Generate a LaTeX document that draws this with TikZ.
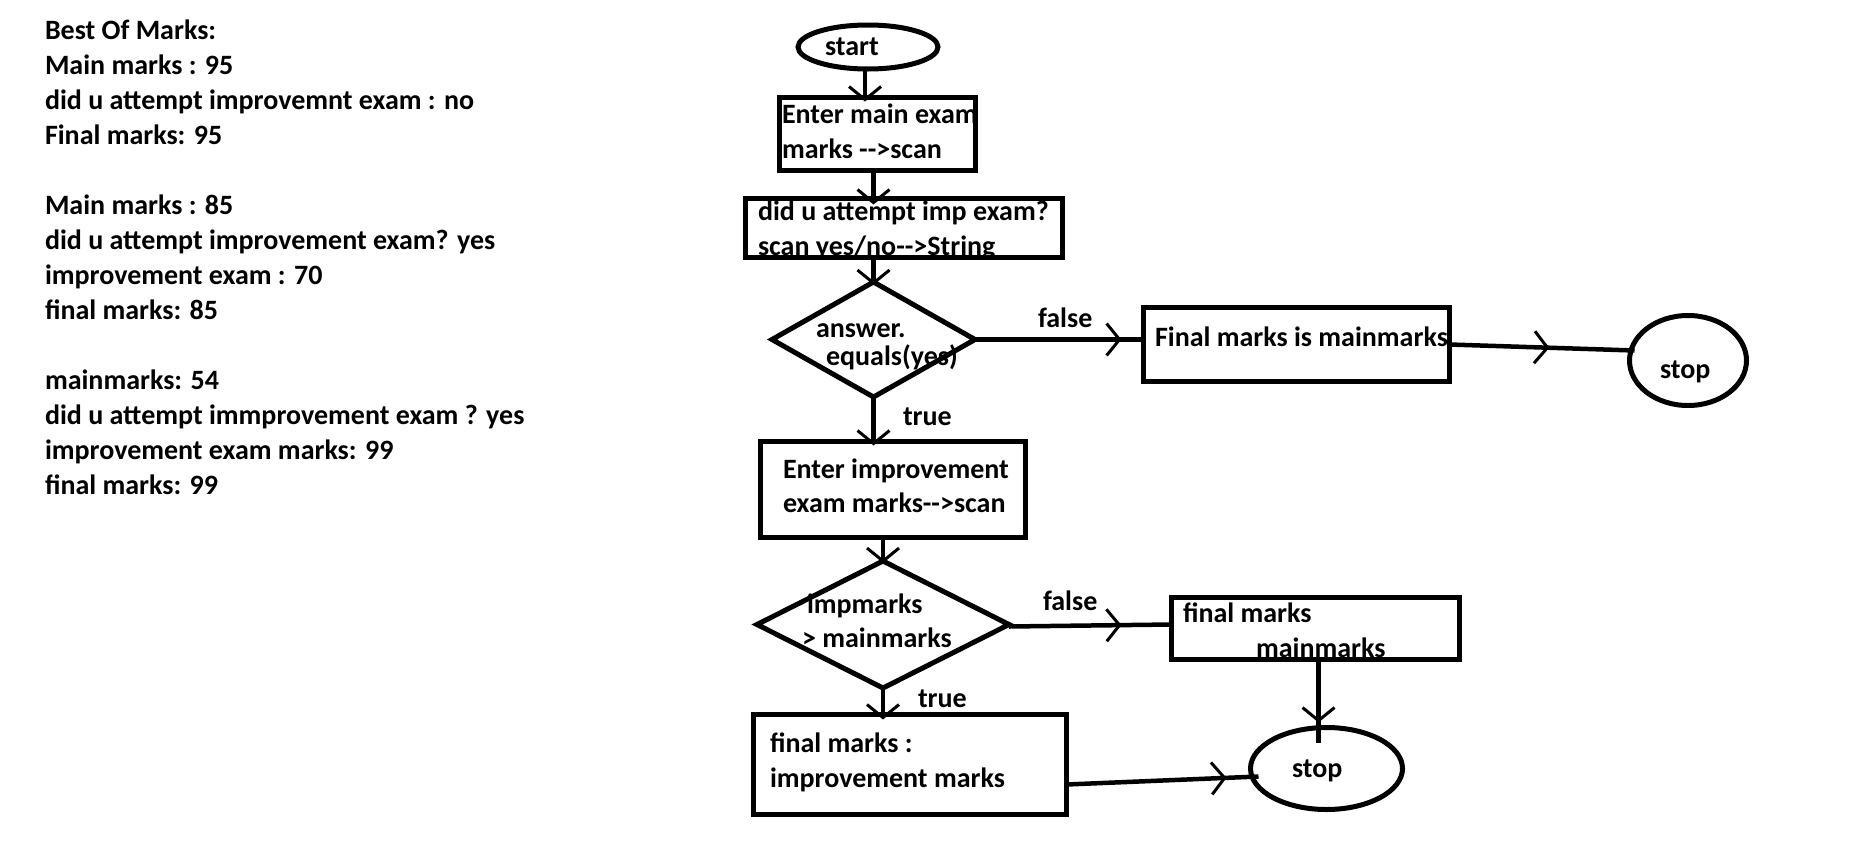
\documentclass[tikz,border=0pt]{standalone}
\usepackage{fontspec}
\setmainfont{Carlito}
\usetikzlibrary{shapes.geometric,arrows.meta,decorations.markings,calc}
\begin{document}
\begin{tikzpicture}[x=1pt,y=-1pt,
  every node/.style={font=\fontsize{28}{32}\selectfont\bfseries},
  txt/.style={anchor=base west,inner sep=0pt,outer sep=0pt},
  shp/.style={draw,line width=5pt,inner sep=0pt,outer sep=0pt},
  boxs/.style={shp,rectangle},
  ell/.style={shp,ellipse},
  dia/.style={shp,diamond},
  conn/.style={line width=4.5pt},
  arrowline/.style={conn,-{Straight Barb[length=13pt,width=32pt,line width=3pt]}},
  marrow/.style={conn,postaction={decorate,decoration={markings,mark=at position #1 with {\arrow{Straight Barb[length=13pt,width=32pt,line width=3pt]}}}}}
]
\useasboundingbox (0,0) rectangle (1865,846);

% left description
\foreach \yy/\ltext [count=\i] in {39/Best Of Marks:,74/Main marks : 95,109/did u attempt improvemnt exam : no,144/Final marks: 95,214/Main marks : 85,249/did u attempt improvement exam? yes,284/improvement exam : 70,319/final marks: 85,389/mainmarks: 54,424/did u attempt immprovement exam ? yes,459/improvement exam marks: 99,494/final marks: 99}
  \node[txt] (left\i) at (45,\yy) {\ltext};

% texts
\node[txt] (tstart) at (825,55) {start};
\node[txt] (tb1a) at (782,123) {Enter main exam};
\node[txt] (tb1b) at (782,158) {marks -{}-{}>scan};
\node[txt] (tb2a) at (758,220) {did u attempt imp exam?};
\node[txt] (tb2b) at (758,255) {scan yes/no-{}-{}>String};
\node[txt] (td1a) at (816,337) {answer.};
\node[txt] (td1b) at (826,365) {equals(yes)};
\node[txt] (tf1) at (1038,327) {false};
\node[txt] (tb3) at (1155,346) {Final marks is mainmarks};
\node[txt] (ts1) at (1660,378) {stop};
\node[txt] (tt1) at (903,425) {true};
\node[txt] (tb4a) at (783,478) {Enter improvement};
\node[txt] (tb4b) at (783,512) {exam marks-{}-{}>scan};
\node[txt] (td2a) at (807,613) {impmarks};
\node[txt] (td2b) at (802,647) {> mainmarks};
\node[txt] (tf2) at (1043,610) {false};
\node[txt] (tb5a) at (1183,622) {final marks};
\node[txt] (tb5b) at (1256,657) {mainmarks};
\node[txt] (tt2) at (918,707) {true};
\node[txt] (tb6a) at (770,752) {final marks :};
\node[txt] (tb6b) at (770,787) {improvement marks};
\node[txt] (ts2) at (1292,777) {stop};

% shapes
\node[ell,minimum width=140pt,minimum height=44pt] (start) at (868,47) {};
\node[boxs,minimum width=196pt,minimum height=73pt] (b1) at (877.5,134) {};
\node[boxs,minimum width=317pt,minimum height=59pt] (b2) at (904,228) {};
\node[dia,minimum width=203pt,minimum height=115pt] (d1) at (873.5,339.5) {};
\node[boxs,minimum width=306pt,minimum height=74pt] (b3) at (1296.5,344.5) {};
\node[ell,minimum width=117pt,minimum height=90pt] (stop1) at (1688,360.5) {};
\node[boxs,minimum width=265pt,minimum height=96pt] (b4) at (893,489.5) {};
\node[dia,minimum width=252pt,minimum height=127pt] (d2) at (883,624.5) {};
\node[boxs,minimum width=288pt,minimum height=62pt] (b5) at (1315.5,628.5) {};
\node[boxs,minimum width=313pt,minimum height=100pt] (b6) at (910,764.5) {};
\node[ell,minimum width=152pt,minimum height=82pt] (stop2) at (1326.5,768.5) {};

% connectors
\draw[arrowline] ($(start.south)+(-3,0)$) -- ($(start.south |- b1.north)+(-3,4)$);
\draw[arrowline] ($(b1.south)+(-4,0)$) -- ($(b1.south |- b2.north)+(-4,6)$);
\draw[arrowline] (d1.north |- b2.south) -- ($(d1.north)+(0,3)$);
\draw[marrow=-22pt] (d1.east) -- (d1.east -| b3.west);
\draw[marrow=0.54] (b3.east) -- ($(stop1.west)+(5,-10)$);
\draw[arrowline] (d1.south) -- ($(d1.south |- b4.north)+(0,4)$);
\draw[arrowline] (b4.south -| d2.north) -- ($(d2.north)+(0,2)$);
\draw[marrow=-50pt] ($(d2.east)+(0,2)$) -- ($(d2.east -| b5.west)+(0,0)$);
\draw[marrow=-20pt] ($(b5.south)+(3,0)$) -- ($(b5.south |- stop2.north)+(3,15)$);
\draw[arrowline] (d2.south) -- ($(d2.south |- b6.north)+(0,5)$);
\draw[marrow=-32pt] ($(b6.east)+(0,20)$) -- ($(stop2.west)+(8,8)$);
\end{tikzpicture}
\end{document}
